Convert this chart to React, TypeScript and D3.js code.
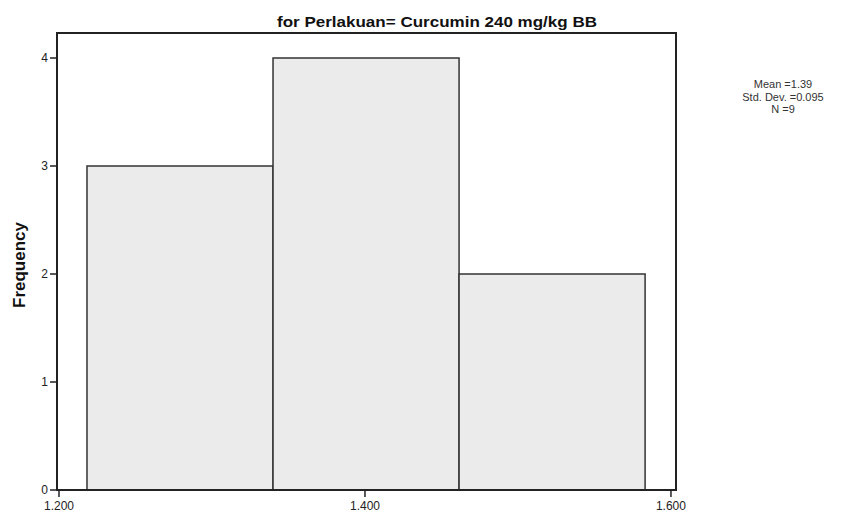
import * as React from "react"
import * as d3 from "d3"

// histogram bins (lower edge, upper edge) and counts
const binEdges = [1.2183, 1.3399, 1.4615, 1.5831]
const counts = [3, 4, 2]
const xTicks = [1.2, 1.4, 1.6]
const yTicks = [0, 1, 2, 3, 4]
const statLines = ["Mean =1.39", "Std. Dev. =0.095", "N =9"]
const title = "for Perlakuan= Curcumin 240 mg/kg BB"

const W = 846
const H = 518
const frame = { left: 57, right: 676, top: 33, bottom: 490 }

const App = (): JSX.Element => {
    const x = d3.scaleLinear().domain([1.1987, 1.6033]).range([frame.left, frame.right])
    const y = d3.scaleLinear().domain([0, 4]).range([frame.bottom, frame.bottom - 4 * 108])

    const bins = counts.map((c, i) => ({ x0: binEdges[i], x1: binEdges[i + 1], count: c }))
    const narrow = "'Liberation Sans Narrow', 'Arial Narrow', 'Liberation Sans', Arial, sans-serif"
    const sans = "'Liberation Sans', Arial, sans-serif"

    return (
        <svg width={W} height={H} style={{ position: "absolute", left: 0, top: 0, background: "#fff" }}>
            {/* title */}
            <text x={277} y={27} textLength={320} lengthAdjust="spacingAndGlyphs"
                fontFamily={sans} fontWeight="bold" fontSize={15} fill="#111">{title}</text>

            {/* bars */}
            {bins.map((b, i) => (
                <rect key={i} x={x(b.x0)} y={y(b.count)} width={x(b.x1) - x(b.x0)}
                    height={y(0) - y(b.count)} fill="#ebebeb" stroke="#333" strokeWidth={1.5} />
            ))}

            {/* frame */}
            <rect x={frame.left} y={frame.top} width={frame.right - frame.left}
                height={frame.bottom - frame.top} fill="none" stroke="#222" strokeWidth={2} />

            {/* y axis */}
            {yTicks.map(t => (
                <g key={t} transform={`translate(${frame.left},${y(t)})`}>
                    <line x1={-7} x2={0} stroke="#222" strokeWidth={1.5} />
                    <text x={-9} dy="0.35em" textAnchor="end" fontFamily={narrow} fontSize={12} fill="#222">{t}</text>
                </g>
            ))}

            {/* x axis */}
            {xTicks.map(t => (
                <g key={t} transform={`translate(${x(t)},${frame.bottom})`}>
                    <line y1={0} y2={7} stroke="#222" strokeWidth={1.5} />
                    <text y={20} textAnchor="middle" fontFamily={narrow} fontSize={12} fill="#222">
                        {d3.format(".3f")(t)}
                    </text>
                </g>
            ))}

            {/* y label */}
            <text transform={`translate(25,265) rotate(-90)`}
                textAnchor="middle" fontFamily={sans} fontWeight="bold"
                fontSize={17} fill="#111">Frequency</text>

            {/* stats */}
            {statLines.map((s, i) => (
                <text key={s} x={783} y={88 + i * 12.5} textAnchor="middle"
                    fontFamily={sans} fontSize={11} fill="#333">{s}</text>
            ))}
        </svg>
    )
}

export default App
